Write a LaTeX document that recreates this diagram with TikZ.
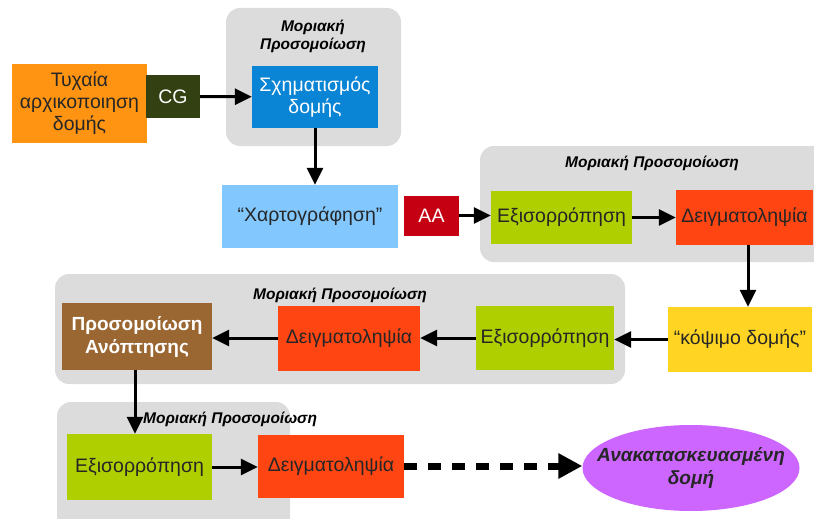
\documentclass[tikz,border=0pt]{standalone}
\usepackage{fontspec}
\setmainfont{Liberation Sans}
\usetikzlibrary{shapes.geometric,arrows.meta}
\definecolor{grayb}{HTML}{DCDCDC}
\definecolor{orng}{HTML}{FF9412}
\definecolor{olive}{HTML}{334012}
\definecolor{blu}{HTML}{0A84D4}
\definecolor{lblu}{HTML}{82C8FF}
\definecolor{aared}{HTML}{C40012}
\definecolor{grn}{HTML}{B0CF00}
\definecolor{rd}{HTML}{FF4612}
\definecolor{yel}{HTML}{FFD422}
\definecolor{brn}{HTML}{9A6632}
\definecolor{purp}{HTML}{CC66FF}
\tikzset{
  grp/.style={fill=grayb,rounded corners=14pt},
  grplabel/.style={font=\fontsize{15.5}{18}\selectfont\bfseries\itshape,align=center,inner sep=0pt},
  box/.style={minimum width=#1,inner sep=0pt,align=center,font=\fontsize{19.5}{22}\selectfont},
  conn/.style={-{Triangle[length=17pt,width=16pt]},line width=3pt},
}
\begin{document}
\begin{tikzpicture}[x=1pt,y=-1pt]
\useasboundingbox (0,0) rectangle (814,519);
% groups
\fill[grp] (226,8) rectangle (401,146);
\fill[grp] (480,146) rectangle (830,262);
\fill[grp] (55,274) rectangle (625,384);
\fill[grp] (57,402) rectangle (290,530);
\node[grplabel] (g1) at (313,36) {Μοριακή\\Προσομοίωση};
\node[grplabel] (g2) at (652,163) {Μοριακή Προσομοίωση};
\node[grplabel] (g3) at (340,295) {Μοριακή Προσομοίωση};
\node[grplabel,anchor=west] (g4) at (143,419) {Μοριακή Προσομοίωση};
% boxes
\node[box=135pt,fill=orng,minimum height=79pt,text=black!85] (rand) at (79.5,103.5) {Τυχαία\\αρχικοποιηση\\δομής};
\node[box=54pt,fill=olive,minimum height=43pt,text=white] (cg) at (173,96.5) {CG};
\node[box=126pt,fill=blu,minimum height=62pt,text=white] (schem) at (315,97) {Σχηματισμός\\δομής};
\node[box=176pt,fill=lblu,minimum height=63pt,text=black!85] (xart) at (310,216.5) {“Χαρτογράφηση”};
\node[box=55pt,fill=aared,minimum height=40pt,text=white] (aa) at (431.5,215.5) {AA};
\node[box=141pt,fill=grn,minimum height=53pt,text=black!85] (eq1) at (561.5,217.5) {Εξισορρόπηση};
\node[box=137pt,fill=rd,minimum height=55pt,text=black!85] (smp1) at (744.5,217.5) {Δειγματοληψία};
\node[box=144pt,fill=yel,minimum height=65pt,text=black!85] (cut) at (740,339.5) {“κόψιμο δομής”};
\node[box=138pt,fill=grn,minimum height=64pt,text=black!85] (eq2) at (545,338) {Εξισορρόπηση};
\node[box=142pt,fill=rd,minimum height=65pt,text=black!85] (smp2) at (349,338) {Δειγματοληψία};
\node[box=150pt,fill=brn,minimum height=67pt,text=white,font=\fontsize{19}{23}\selectfont\bfseries] (ann) at (137,336.5) {Προσομοίωση\\Ανόπτησης};
\node[box=145pt,fill=grn,minimum height=66pt,text=black!85] (eq3) at (139.5,467) {Εξισορρόπηση};
\node[box=146pt,fill=rd,minimum height=63pt,text=black!85] (smp3) at (331,466) {Δειγματοληψία};
\node[ellipse,fill=purp,minimum width=217pt,minimum height=86pt,inner xsep=-18pt,inner ysep=0pt,align=center,font=\fontsize{19}{23}\selectfont\bfseries\itshape,text=black!85] (rec) at (691,468) {Ανακατασκευασμένη\\δομή};
% connectors
\draw[conn] (cg) -- (schem);
\draw[conn] (schem.south) -- (xart.north -| schem.south);
\draw[conn] (aa.east) -- (eq1.west |- aa.east);
\draw[conn] (eq1) -- (smp1);
\draw[conn] (smp1.south -| 748,0) -- (cut.north -| 748,0);
\draw[conn] (cut.west) -- (eq2.east |- cut.west);
\draw[conn] (eq2) -- (smp2);
\draw[conn] (smp2.west) -- (ann.east |- smp2.west);
\draw[conn] (ann.south -| 135,0) -- (eq3.north -| 135,0);
\draw[conn] (eq3.east) -- (smp3.west |- eq3.east);
\draw[-{Triangle[length=24pt,width=24pt]},line width=7pt,dash pattern=on 13pt off 11pt] (smp3.east) -- (rec.west |- smp3.east);
\end{tikzpicture}
\end{document}
